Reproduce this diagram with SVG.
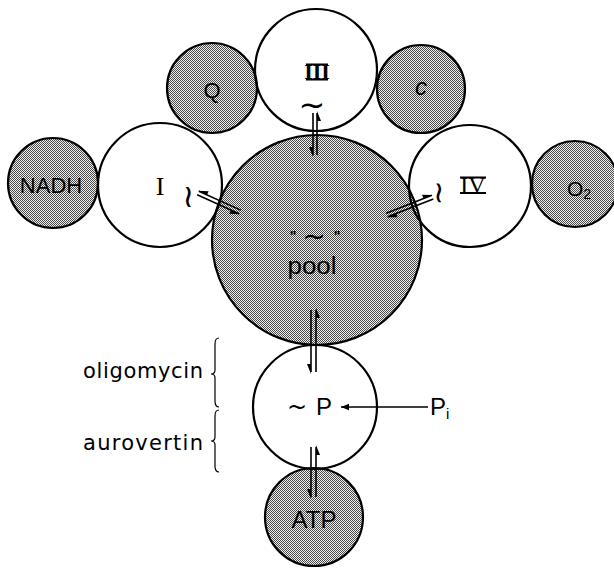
<svg xmlns="http://www.w3.org/2000/svg" width="614" height="568" viewBox="0 0 614 568">
<defs>
<pattern id="ht" width="2" height="2" patternUnits="userSpaceOnUse">
<rect width="2" height="2" fill="#efefef"/>
<rect width="1" height="1" fill="#4a4a4a"/>
<rect x="1" y="1" width="1" height="1" fill="#4a4a4a"/>
</pattern>
<marker id="ah" viewBox="0 0 10 10" refX="10" refY="5" markerWidth="10" markerHeight="8" markerUnits="userSpaceOnUse" orient="auto"><path d="M0,1 L10,5 L0,9 z" fill="#000"/></marker>
</defs>
<style>
.shade{fill:url(#ht);stroke:#000;stroke-width:2.2}
.open{fill:none;stroke:#000;stroke-width:2.2}
.sans{font-family:"Liberation Sans",Arial,sans-serif;fill:#000}
.dj{font-family:"DejaVu Sans","Liberation Sans",sans-serif;fill:#000}
.serif{font-family:"Liberation Serif","Times New Roman",serif;fill:#000}
.m{text-anchor:middle}
.ln{stroke:#000;stroke-width:1.6;fill:none}
.bar{stroke:#000;stroke-width:1.8;fill:none}
.hd{fill:#000}
.br{stroke:#000;stroke-width:1.2;fill:none}
</style>
<rect width="614" height="568" fill="#fff"/>

<g id="node-pool">
<circle class="shade" cx="317" cy="240" r="105"/>
<text class="sans m" x="293" y="241" font-size="14" font-weight="bold">"</text>
<text class="sans m" x="337" y="241" font-size="14" font-weight="bold">"</text>
<text class="dj m" x="314" y="246" font-size="28">~</text>
<text class="sans m" x="312" y="274" font-size="23" textLength="49" lengthAdjust="spacingAndGlyphs">pool</text>
</g>
<g id="node-NADH">
<circle class="shade" cx="53" cy="183" r="45"/>
<text class="sans m" x="51" y="193" font-size="22">NADH</text>
</g>
<g id="node-Q">
<circle class="shade" cx="212" cy="88" r="45"/>
<text class="sans m" x="212" y="98" font-size="22">Q</text>
</g>
<g id="node-c">
<circle class="shade" cx="421" cy="89" r="44"/>
<text class="sans m" x="421" y="95" font-size="24" font-style="italic">c</text>
</g>
<g id="node-O2">
<circle class="shade" cx="575" cy="184" r="43"/>
<text class="sans m" x="579" y="196" font-size="21">O<tspan font-size="14" dy="3">2</tspan></text>
</g>
<g id="node-ATP">
<circle class="shade" cx="314" cy="517" r="49"/>
<text class="sans m" x="314" y="528" font-size="24">ATP</text>
</g>
<g id="node-I">
<circle class="open" cx="160" cy="185" r="62"/>
<text class="serif m" x="160" y="195" font-size="26">I</text>
<text class="dj m" transform="translate(189,197) rotate(90)" x="0" y="11" font-size="32">~</text>
</g>
<g id="node-III">
<circle class="open" cx="316" cy="70" r="61"/>
<text class="serif m" x="317" y="79" font-size="22" font-weight="bold">III</text>
<path class="bar" d="M306,64.5 H328 M306,79.5 H328"/>
<text class="dj m" x="312" y="116" font-size="32">~</text>
</g>
<g id="node-IV">
<circle class="open" cx="470" cy="186" r="61"/>
<text class="serif m" x="473" y="193" font-size="24">IV</text>
<path class="bar" d="M460,177.5 H486 M460,193 H486"/>
<text class="dj m" transform="translate(438,193) rotate(-90)" x="0" y="10" font-size="30">~</text>
</g>
<g id="node-P">
<circle class="open" cx="315" cy="407" r="62"/>
<text class="sans" x="287" y="415" font-size="24"><tspan class="dj" font-size="24">~</tspan><tspan dx="9">P</tspan></text>
</g>
<g id="node-Pi">
<text class="sans" x="430" y="415" font-size="24">P<tspan font-size="15" dy="4">i</tspan></text>
</g>
<g id="labels">
<text class="dj" x="83" y="378" font-size="21" textLength="120" lengthAdjust="spacing">oligomycin</text>
<text class="dj" x="83" y="450" font-size="21" textLength="120" lengthAdjust="spacing">aurovertin</text>
<path class="br" d="M219,338 q-4,0 -4,6 v26 q0,4 -4,4 q4,0 4,4 v23 q0,6 4,6"/>
<path class="br" d="M219,410 q-4,0 -4,6 v21 q0,4 -4,4 q4,0 4,4 v21 q0,6 4,6"/>
</g>

<g id="connectors">
<path class="ln" d="M313,113 V155 M317,113 V155"/>
<polygon class="hd" points="317,111 317,121 321,121"/>
<polygon class="hd" points="313,157 313,147 309,147"/>

<path class="ln" d="M311,310 V372 M316,310 V372"/>
<polygon class="hd" points="316,308 316,318 320,318"/>
<polygon class="hd" points="311,374 311,364 307,364"/>

<path class="ln" d="M311,447 V497 M316,447 V497"/>
<polygon class="hd" points="316,445 316,455 320,455"/>
<polygon class="hd" points="311,499 311,489 307,489"/>

<g transform="translate(198,193) rotate(24.3)">
<path class="ln" d="M0,-2 H46 M0,2 H46"/>
<polygon class="hd" points="-1,-2 9,-2 9,-6"/>
<polygon class="hd" points="47,2 37,2 37,6"/>
</g>
<g transform="translate(387,215) rotate(-21.4)">
<path class="ln" d="M0,-2 H49 M0,2 H49"/>
<polygon class="hd" points="50,-2 40,-2 40,-6"/>
<polygon class="hd" points="-1,2 9,2 9,6"/>
</g>
<path class="ln" d="M428,407 H341" marker-end="url(#ah)"/>
</g>
</svg>
